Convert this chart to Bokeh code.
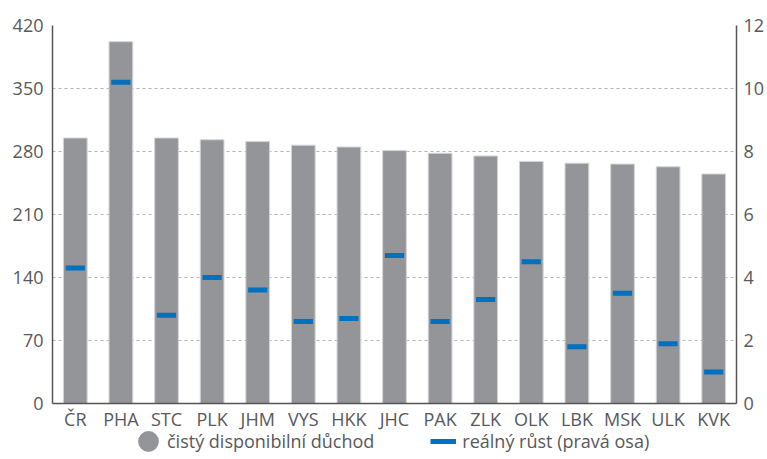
from bokeh.plotting import figure
from bokeh.models import Range1d, LinearAxis, Legend, LegendItem, FixedTicker
from bokeh.layouts import column
from bokeh.embed import file_html
from bokeh.resources import INLINE

categories = ["ČR", "PHA", "STC", "PLK", "JHM", "VYS", "HKK", "JHC",
              "PAK", "ZLK", "OLK", "LBK", "MSK", "ULK", "KVK"]
income = [295, 402, 295, 293, 291, 287, 285, 281, 278, 275, 269, 267, 266, 263, 255]
growth = [4.3, 10.2, 2.8, 4.0, 3.6, 2.6, 2.7, 4.7, 2.6, 3.3, 4.5, 1.8, 3.5, 1.9, 1.0]
left_ticks = [0, 70, 140, 210, 280, 350, 420]
right_ticks = [0, 2, 4, 6, 8, 10, 12]
bar_label = "čistý disponibilní důchod"
growth_label = "reálný růst (pravá osa)"

FONT = "Open Sans"
TXT = "#58595b"
AX = "#555555"
BAR = "#939598"
BLUE = "#0070c0"

p = figure(x_range=categories, y_range=Range1d(0, 420), width=767, height=433,
           output_backend="svg", toolbar_location=None,
           min_border_left=52, min_border_top=25, min_border_bottom=28, min_border_right=29)
p.outline_line_color = None
p.extra_y_ranges = {"g": Range1d(0, 12)}

bars = p.vbar(x=categories, top=income, width=0.52, fill_color=BAR,
              line_color="#d4d4d6", line_width=1)
marks = p.rect(x=categories, y=growth, width=0.42, height=5, height_units="screen",
               y_range_name="g", fill_color=BLUE, line_color=None)

p.yaxis.ticker = FixedTicker(ticks=left_ticks)
ra = LinearAxis(y_range_name="g", ticker=FixedTicker(ticks=right_ticks))
p.add_layout(ra, "right")

for ax in [p.yaxis[0], ra, p.xaxis[0]]:
    ax.major_tick_line_color = None
    ax.minor_tick_line_color = None
    ax.axis_line_color = AX
    ax.axis_line_width = 1.5
    ax.major_label_text_font = FONT
    ax.major_label_text_font_size = "18px"
    ax.major_label_text_color = TXT
    ax.major_tick_out = 0
    ax.major_tick_in = 0
p.yaxis[0].major_label_standoff = 9
ra.major_label_standoff = 7
p.xaxis.major_label_standoff = 3

p.xgrid.grid_line_color = None
p.ygrid.grid_line_color = "#b5b5b5"
p.ygrid.grid_line_dash = "3 3"
p.ygrid.grid_line_width = 1

# legend strip below the chart (pulled up slightly, transparent)
p2 = figure(width=767, height=26, x_range=Range1d(0, 1), y_range=Range1d(0, 1),
            output_backend="svg", toolbar_location=None,
            x_axis_type=None, y_axis_type=None, min_border=0,
            margin=(-5, 0, 0, 0))
p2.outline_line_color = None
p2.background_fill_alpha = 0
p2.border_fill_alpha = 0
p2.grid.visible = False
leg_circle = p2.ellipse(x=[0.5], y=[float("nan")], width=20, height=20,
                        width_units="screen", height_units="screen",
                        fill_color=BAR, line_color=None)
leg_line = p2.line(x=[0.5], y=[float("nan")], line_color=BLUE, line_width=5)

leg = Legend(items=[LegendItem(label=bar_label, renderers=[leg_circle]),
                    LegendItem(label=growth_label, renderers=[leg_line])],
             location=(83, 0), orientation="horizontal",
             glyph_width=26, glyph_height=26, label_standoff=6,
             padding=0, margin=0, spacing=56, border_line_color=None,
             background_fill_alpha=0, label_text_font=FONT,
             label_text_font_size="18px", label_text_color=TXT)
p2.add_layout(leg, "center")

open("out.html", "w").write(file_html(column(p, p2), INLINE))
